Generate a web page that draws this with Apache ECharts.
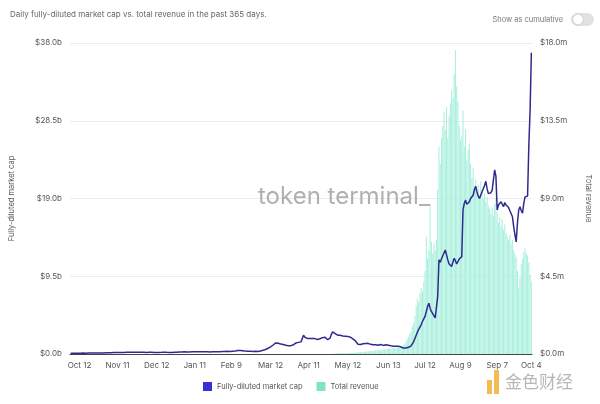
<!DOCTYPE html>
<html>
<head>
<meta charset="utf-8">
<style>
  html, body { margin: 0; padding: 0; background: #fff; }
  #chart { width: 600px; height: 404px; }
</style>
<script src="https://cdn.jsdelivr.net/npm/echarts@6/dist/echarts.min.js"></script>
</head>
<body>
<div id="chart"></div>
<script>
// daily series, first day 2020-10-05, 365 days
const START = Date.UTC(2020, 9, 5);
const DAYS = 365;
const MONTHS = ['Jan', 'Feb', 'Mar', 'Apr', 'May', 'Jun', 'Jul', 'Aug', 'Sep', 'Oct', 'Nov', 'Dec'];

const tickLabels = ['Oct 12', 'Nov 11', 'Dec 12', 'Jan 11', 'Feb 9', 'Mar 12', 'Apr 11',
  'May 12', 'Jun 13', 'Jul 12', 'Aug 9', 'Sep 7', 'Oct 4'];

// fully-diluted market cap, $b, one array per month
const mcapOct20 = [0.08,0.08,0.09,0.09,0.08,0.09,0.10,0.10,0.09,0.10,0.11,0.10,0.10,0.11,0.12,0.11,0.11,0.12,0.12,0.11,0.12,0.13,0.12,0.12,0.13,0.13,0.12];
const mcapNov20 = [0.13,0.14,0.14,0.15,0.16,0.15,0.16,0.17,0.18,0.17,0.18,0.19,0.18,0.18,0.17,0.18,0.19,0.20,0.21,0.20,0.19,0.20,0.21,0.22,0.21,0.20,0.19,0.20,0.21,0.20];
const mcapDec20 = [0.20,0.21,0.20,0.19,0.19,0.20,0.21,0.20,0.19,0.18,0.18,0.19,0.20,0.19,0.19,0.20,0.21,0.22,0.21,0.20,0.19,0.19,0.18,0.19,0.20,0.21,0.22,0.21,0.22,0.23,0.24];
const mcapJan21 = [0.25,0.26,0.27,0.26,0.25,0.24,0.25,0.26,0.27,0.28,0.27,0.26,0.27,0.28,0.29,0.28,0.27,0.26,0.27,0.28,0.27,0.26,0.25,0.26,0.27,0.28,0.27,0.26,0.27,0.28,0.29];
const mcapFeb21 = [0.29,0.30,0.31,0.30,0.32,0.33,0.32,0.31,0.33,0.35,0.36,0.38,0.40,0.42,0.45,0.43,0.41,0.40,0.38,0.37,0.36,0.35,0.36,0.34,0.33,0.32,0.33,0.34];
const mcapMar21 = [0.32,0.30,0.33,0.36,0.40,0.45,0.50,0.55,0.62,0.70,0.78,0.88,0.98,1.10,1.22,1.35,1.40,1.32,1.28,1.22,1.18,1.15,1.10,1.06,1.02,1.00,0.98,1.02,1.06,1.12,1.20];
const mcapApr21 = [1.35,1.40,1.42,1.46,1.48,1.50,2.30,2.05,1.95,1.90,1.92,1.88,1.85,1.90,1.94,1.88,1.82,1.78,1.80,1.86,1.92,2.00,2.10,2.05,1.90,1.75,1.70,1.95,2.40,2.70];
const mcapMay21 = [2.60,2.50,2.40,2.30,2.35,2.28,2.25,2.20,2.22,2.18,2.10,2.15,2.12,2.05,1.95,1.85,1.75,1.60,1.40,1.20,1.10,1.15,1.20,1.25,1.30,1.28,1.25,1.30,1.22,1.18,1.15];
const mcapJun21 = [1.12,1.10,1.14,1.10,1.08,1.12,1.15,1.10,1.05,1.08,1.12,1.10,1.06,1.02,1.00,0.98,0.95,0.92,0.95,1.00,0.96,0.92,0.85,0.78,0.72,0.70,0.74,0.78,0.82,0.90];
const mcapJul21 = [1.0,1.2,1.5,1.9,2.3,2.7,3.0,3.2,3.6,4.0,4.3,4.6,5.2,5.8,6.2,5.6,5.2,5.0,4.7,4.4,4.2,7.0,11.5,11.2,11.6,12.0,11.9,12.7,12.1,11.5,11.0];
const mcapAug21 = [10.8,10.7,11.2,11.7,11.4,11.0,11.3,11.6,11.5,11.9,17.6,18.4,18.8,18.3,18.5,18.6,19.0,19.2,19.4,20.1,20.5,19.8,19.3,19.0,19.4,19.8,20.0,20.6,21.1,20.2,19.6];
const mcapSep21 = [19.8,19.7,20.0,19.9,22.5,21.7,17.6,18.2,18.0,18.6,18.3,18.0,18.5,18.2,18.4,17.9,17.5,17.6,16.8,15.6,14.6,13.7,16.0,17.6,18.0,17.5,17.2,18.4,19.2,19.0];
const mcapOct21 = [19.3,25.5,29.8,36.8];

// total revenue, $m, from 2021-05-01 (nothing visible before)
const revenueStart = Date.UTC(2021, 4, 1);
const revMay21 = [0.03,0.03,0.04,0.03,0.04,0.04,0.05,0.04,0.05,0.05,0.06,0.05,0.06,0.06,0.07,0.06,0.07,0.08,0.09,0.10,0.11,0.10,0.12,0.13,0.12,0.14,0.15,0.14,0.16,0.17,0.18];
const revJun21 = [0.18,0.19,0.20,0.21,0.22,0.22,0.24,0.25,0.26,0.26,0.28,0.29,0.30,0.31,0.32,0.33,0.34,0.35,0.36,0.37,0.38,0.40,0.42,0.45,0.50,0.58,0.70,0.85,1.00,1.20];
const revJul21 = [1.3,1.6,1.8,2.2,2.8,3.2,3.0,3.5,3.8,3.6,4.2,4.8,6.8,5.5,6.0,8.7,6.5,5.8,6.4,6.0,6.6,9.5,12.0,11.0,12.5,13.2,14.0,13.0,14.3,12.5,13.8];
const revAug21 = [14.5,15.3,14.8,16.2,17.6,15.5,14.6,13.2,12.4,12.6,14.1,12.0,13.0,11.2,11.8,12.2,11.0,10.2,10.8,9.6,10.1,9.4,9.8,9.2,10.0,9.5,9.0,9.3,8.8,9.1,8.6];
const revSep21 = [8.4,8.1,8.5,8.0,8.7,9.0,8.2,7.6,7.9,7.4,7.8,7.2,7.5,7.0,6.8,6.6,6.9,6.4,6.6,6.0,5.8,5.6,4.8,3.8,4.4,5.2,5.5,5.9,6.1,5.8];
const revOct21 = [5.7,5.3,4.6,4.2];

const COLORS = { line: '#2f2a8f', lineLegend: '#3b2fd4', bar: '#abf0de', barLegend: '#7fe3c8', text: '#555', grid: '#ececec', axis: '#444' };
const FONT = 'Inter, Roboto, sans-serif';

const dates = [];
for (let i = 0; i < DAYS; i++) {
  const d = new Date(START + i * 86400000);
  dates.push(MONTHS[d.getUTCMonth()] + ' ' + d.getUTCDate());
}

const marketCap = [].concat(mcapOct20, mcapNov20, mcapDec20, mcapJan21, mcapFeb21, mcapMar21,
  mcapApr21, mcapMay21, mcapJun21, mcapJul21, mcapAug21, mcapSep21, mcapOct21);

const revValues = [].concat(revMay21, revJun21, revJul21, revAug21, revSep21, revOct21);
const revOffset = Math.round((revenueStart - START) / 86400000);
const revenue = dates.map((_, i) => (i >= revOffset ? revValues[i - revOffset] : null));

const chart = echarts.init(document.getElementById('chart'), null, { renderer: 'canvas' });

chart.setOption({
  backgroundColor: '#fff',
  animation: false,
  textStyle: { fontFamily: FONT },
  grid: { left: 70, right: 64, top: 43, bottom: 50 },
  legend: {
    bottom: 8, left: 198,
    itemWidth: 9, itemHeight: 9, itemGap: 14,
    textStyle: { color: COLORS.text, fontSize: 7.5, fontFamily: FONT },
    data: [
      { name: 'Fully-diluted market cap', icon: 'rect', itemStyle: { color: COLORS.lineLegend } },
      { name: 'Total revenue', icon: 'rect', itemStyle: { color: COLORS.barLegend } },
    ],
  },
  xAxis: {
    type: 'category', data: dates,
    axisLine: { lineStyle: { color: COLORS.axis, width: 1 } },
    axisTick: { show: false },
    axisLabel: {
      color: COLORS.text, fontSize: 8, margin: 8,
      interval: (i, v) => tickLabels.includes(v),
    },
  },
  yAxis: [
    {
      type: 'value', min: 0, max: 38, interval: 9.5,
      name: 'Fully-diluted market cap', nameLocation: 'middle', nameGap: 54, nameRotate: 90,
      nameTextStyle: { color: COLORS.text, fontSize: 7.5 },
      axisLabel: { color: COLORS.text, fontSize: 8, formatter: (v) => '$' + v.toFixed(1) + 'b' },
      splitLine: { lineStyle: { color: COLORS.grid } },
      axisLine: { show: false }, axisTick: { show: false },
    },
    {
      type: 'value', min: 0, max: 18, interval: 4.5,
      name: 'Total revenue', nameLocation: 'middle', nameGap: 52, nameRotate: -90,
      nameTextStyle: { color: COLORS.text, fontSize: 7.5 },
      axisLabel: { color: COLORS.text, fontSize: 8, formatter: (v) => '$' + v.toFixed(1) + 'm' },
      splitLine: { show: false },
      axisLine: { show: false }, axisTick: { show: false },
    },
  ],
  graphic: [
    { type: 'text', left: 10, top: 11,
      style: { text: 'Daily fully-diluted market cap vs. total revenue in the past 365 days.', fill: '#666', font: '8px ' + FONT } },
    { type: 'text', right: 37, top: 16,
      style: { text: 'Show as cumulative', fill: '#777', font: '7.5px ' + FONT } },
    { type: 'rect', right: 6, top: 13, shape: { width: 23, height: 13, r: 6.5 }, style: { fill: '#e2e2e2' } },
    { type: 'circle', right: 17, top: 14.5, shape: { r: 5 }, style: { fill: '#fff', shadowBlur: 2, shadowColor: 'rgba(0,0,0,0.25)' } },
    { type: 'text', left: 258, top: 185, z: 10,
      style: { text: 'token terminal_', fill: 'rgba(150,150,150,0.75)', font: '24px ' + FONT } },
    { type: 'rect', left: 487, top: 380, shape: { width: 5, height: 14 }, style: { fill: 'rgba(240,170,40,0.8)' } },
    { type: 'rect', left: 494, top: 370, shape: { width: 5, height: 24 }, style: { fill: 'rgba(240,170,40,0.8)' } },
    { type: 'text', left: 505, top: 373,
      style: { text: '金色财经', fill: 'rgba(170,170,170,0.85)', font: '17px "Noto Sans CJK SC"' } },
  ],
  series: [
    {
      name: 'Total revenue', type: 'bar', yAxisIndex: 1,
      data: revenue, barCategoryGap: '15%',
      itemStyle: { color: COLORS.bar },
    },
    {
      name: 'Fully-diluted market cap', type: 'line', yAxisIndex: 0,
      data: marketCap, symbol: 'none', z: 3,
      lineStyle: { color: COLORS.line, width: 1.5 },
      itemStyle: { color: COLORS.lineLegend },
    },
  ],
});
</script>
</body>
</html>
